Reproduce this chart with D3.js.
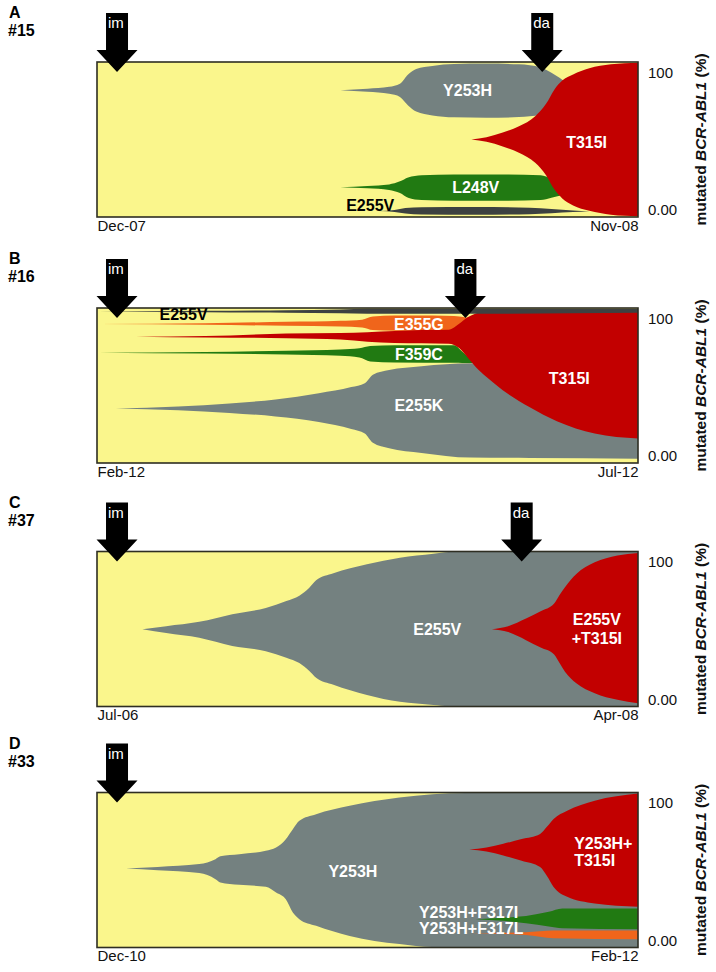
<!DOCTYPE html>
<html>
<head>
<meta charset="utf-8">
<script src="https://cdn.jsdelivr.net/npm/d3@7"></script>
<style>
  html, body { margin: 0; padding: 0; background: #fff; }
  svg { display: block; font-family: "Liberation Sans Narrow", "Arial Narrow", "Liberation Sans", Arial, sans-serif; }
  .title { font-family: "Liberation Sans", Arial, sans-serif; }
</style>
</head>
<body>
<svg id="chart" width="716" height="972"></svg>
<script>
// Clone outlines: each point is [time (% of the follow-up span), lower %, upper %]

// A  #15
const A_Y253H = [[45,81.8,81.8],[50,80.8,82.8],[54,79.5,84],[56,77.5,86],[57.5,72,92],[59,68,95.5],[62,65.5,97.5],[66,64.3,98.7],[72,64,99],[78,64.5,98.5],[82,66,96.5],[84,69,93],[87,74,86]];
const A_L248V = [[45,19.2,19.2],[50,18.5,20],[54,17.5,21],[56,15.5,23],[57.5,12.5,25.5],[60,11,27],[66,10.5,27.5],[76,10.5,27.5],[82,11,27],[84,12.5,25],[87,15,22]];
const A_E255V = [[52,3.8,3.8],[55,3.3,4.5],[57,2.2,5.8],[60,1.6,6.3],[70,1.4,6.5],[80,1.8,6],[84,2.5,5.2],[88,3.2,4.2],[91,3.7,3.7]];
const A_T315I = [[69.2,50,50],[72,48.5,51.5],[75,45.5,54.5],[78,41.5,58.5],[81,35,65],[83,27,73],[84.5,18,82],[86,12,88],[88,7.5,92],[91,4,96],[95,1.5,98.5],[100,0.5,99.5]];

// B  #16
const B_E255K = [[3.5,35.2,35.2],[15,34,36.5],[24.5,32.3,38.4],[33,30,41],[41,26.5,45],[47,22,49],[49.5,19,51.5],[51,13,57],[54,9.5,60],[60,6.5,62.5],[69,3.5,64.4],[80,3.3,64.4],[100,2.8,64.4]];
const B_F359C = [[0.5,71.2,71.2],[20,70.6,71.6],[35,70,72.4],[45,69.2,73.2],[48.5,68,74],[50.5,65.5,75.5],[55,64.8,76],[66,64.6,76],[67.5,64.5,72],[69.5,64.5,65]];
const B_E355G = [[0.5,89.7,89.7],[20,89.2,90.2],[35,88.5,91.1],[45,88,91.8],[49,87.5,92.5],[51,85.8,94.5],[55,85.3,95.2],[62,85.3,95.2],[66,86,94.8],[68,88,94],[70,91,93]];
const B_T315I = [[7.2,81.5,81.5],[20,81,81.9],[35,80.5,83.5],[45,79.6,83.8],[50,78.3,84.4],[60,77.2,85.8],[65,77,86],[67,74,90],[68.5,68,94],[70,62,96.5],[72,55.5,98],[75,47,98.5],[80,36,98.5],[85,27,98.5],[92,19,98.3],[100,15.8,98]];
const B_E255V = [[0.5,97.6,97.6],[20,97.2,98.2],[35,96.9,98.6],[45,96.6,99],[50,96.3,99.5],[70,96.3,99.5],[100,97,99.5]];

// C  #37
const C_E255V = [[8.4,49.8,49.8],[12.8,47.4,51.8],[18.9,44.3,54.6],[25,39,59.5],[31.2,35.7,63.6],[35,31.5,68],[37.4,28,71.5],[39.2,23,76.5],[40.5,18.5,81.5],[43.7,14,86],[49.9,7.5,91.8],[56,3,96],[62.2,1,98.5],[65,0.3,99.6],[100,0.3,99.7]];
const C_T315I = [[73,49.9,49.9],[76,48,51.8],[79.3,42.8,56.7],[82,38,61.5],[84.5,33.5,66.5],[85.5,28,72],[86.5,22.5,77],[88.6,15,85.5],[92,8.6,93],[96.2,4.3,97.4],[100,2.1,99.1]];

// D  #33
const D_Y253H = [[5.4,51,51],[11.2,49.9,52],[18.9,48,53.8],[21.9,44.1,57],[22.8,42,58.8],[26.3,40.5,60.2],[31.2,39.2,62.4],[33.1,35.5,64.5],[34.9,31.2,69.9],[36.2,22.6,76.3],[37.4,18.3,81.7],[40.5,14,86],[46.7,7.5,91.4],[55.9,2.2,96.8],[62,0.3,98.9],[68.2,0.3,99.7],[100,0.3,99.7]];
const D_T315I = [[68.8,63.2,63.2],[72,62,64.5],[75.1,59.4,66.9],[78.5,56,70],[81.9,51.9,73.3],[83.2,46,78],[84.4,39.1,82.9],[86.9,32.7,88.2],[92,28.4,94.7],[100,26.3,99.4]];
const D_F317I = [[70,18.2,18.2],[75,17.2,19.2],[79.3,15.6,20.3],[83.5,13.5,23],[86,12.4,25.2],[100,11.8,25.2]];
const D_F317L = [[69.2,9.2,9.2],[79.3,8.1,9.8],[84.4,6,10.9],[100,5.3,10.9]];

// clone names drawn inside the plot: [text, time, %]
const A_NAMES = [["Y253H", 68.5, 82], ["T315I", 90.5, 48], ["L248V", 70, 19]];
const A_DARK_NAMES = [["E255V", 50.5, 7.4]];
const B_NAMES = [["E355G", 59.5, 89.4], ["F359C", 59.5, 70], ["E255K", 59.5, 37], ["T315I", 87.3, 54.6]];
const B_DARK_NAMES = [["E255V", 16, 96]];
const C_NAMES = [["E255V", 62.9, 49.9], ["E255V", 92.4, 56], ["+T315I", 92.4, 44]];
const D_NAMES = [["Y253H", 47.3, 49.4]];
const D_LEFT_NAMES = [["Y253H+", 88.2, 67.5], ["T315I", 88.2, 56.5], ["Y253H+F317I", 59.5, 23], ["Y253H+F317L", 59.5, 12.2]];

const PANEL_IDS = ["A", "B", "C", "D"];
const PANEL_CASES = ["#15", "#16", "#37", "#33"];
const START_LABELS = ["Dec-07", "Feb-12", "Jul-06", "Dec-10"];
const END_LABELS = ["Nov-08", "Jul-12", "Apr-08", "Feb-12"];
const IM_TIMES = [3.7, 3.7, 3.7, 3.7];
const DA_TIMES = [82.3, 68.1, 78.5, null];
const Y_TICKS = [100, 0];
const Y_TICK_LABELS = ["100", "0.00"];

const YELLOW = "#faf68c";
const GREY = "#748180";
const RED = "#c20000";
const GREEN = "#217a12";
const ORANGE = "#f0651b";
const DARK = "#3d4141";

const panels = [
  { clones: [[A_Y253H, GREY], [A_L248V, GREEN], [A_E255V, DARK], [A_T315I, RED]], names: A_NAMES, dark: A_DARK_NAMES, left: [] },
  { clones: [[B_E255K, GREY], [B_F359C, GREEN], [B_E355G, ORANGE], [B_T315I, RED], [B_E255V, DARK]], names: B_NAMES, dark: B_DARK_NAMES, left: [] },
  { clones: [[C_E255V, GREY], [C_T315I, RED]], names: C_NAMES, dark: [], left: [] },
  { clones: [[D_Y253H, GREY], [D_T315I, RED], [D_F317I, GREEN], [D_F317L, ORANGE]], names: D_NAMES, dark: [], left: D_LEFT_NAMES }
];

const X0 = 97, X1 = 638, H = 155;
const TOPS = [62, 308, 551.5, 792.5];

const svg = d3.select("#chart");
const x = d3.scaleLinear().domain([0, 100]).range([X0, X1]);

panels.forEach((p, i) => {
  const top = TOPS[i];
  const y = d3.scaleLinear().domain([0, 100]).range([top + H, top]);
  const g = svg.append("g");

  g.append("clipPath").attr("id", "clip" + i)
    .append("rect").attr("x", X0).attr("y", top).attr("width", X1 - X0).attr("height", H);

  g.append("rect")
    .attr("x", X0).attr("y", top).attr("width", X1 - X0).attr("height", H)
    .attr("fill", YELLOW);

  const area = d3.area()
    .x(d => x(d[0]))
    .y0(d => y(d[1]))
    .y1(d => y(d[2]))
    .curve(d3.curveMonotoneX);

  const fish = g.append("g").attr("clip-path", "url(#clip" + i + ")");
  fish.selectAll("path")
    .data(p.clones)
    .enter()
    .append("path")
    .attr("d", d => area(d[0]))
    .attr("fill", d => d[1]);

  g.append("rect")
    .attr("x", X0).attr("y", top).attr("width", X1 - X0).attr("height", H)
    .attr("fill", "none").attr("stroke", "#2e2e22").attr("stroke-width", 1.6);

  // clone names
  const nameText = (arr, fill, anchor) => g.selectAll(null)
    .data(arr)
    .enter()
    .append("text")
    .attr("x", d => x(d[1]))
    .attr("y", d => y(d[2]))
    .attr("dy", "0.36em")
    .attr("text-anchor", anchor)
    .attr("fill", fill)
    .attr("font-weight", "bold")
    .attr("font-size", 16)
    .text(d => d[0]);
  nameText(p.names, "#fff", "middle");
  nameText(p.dark, "#000", "middle");
  nameText(p.left, "#fff", "start");

  // treatment arrows
  const arrow = (t, label) => {
    const cx = x(t);
    const pts = [
      [cx - 11, top - 49], [cx + 11, top - 49], [cx + 11, top - 12], [cx + 20.5, top - 12],
      [cx, top + 10], [cx - 20.5, top - 12], [cx - 11, top - 12]
    ];
    g.append("path").attr("d", d3.line()(pts) + "Z").attr("fill", "#000");
    g.append("text")
      .attr("x", cx - 9).attr("y", top - 34)
      .attr("fill", "#fff").attr("font-size", 15)
      .text(label);
  };
  arrow(IM_TIMES[i], "im");
  if (DA_TIMES[i] != null) arrow(DA_TIMES[i], "da");

  // right axis
  const yAxis = g.append("g")
    .attr("transform", "translate(" + (X1 + 8) + ",0)")
    .call(d3.axisRight(y).tickValues(Y_TICKS).tickSize(0).tickPadding(2)
      .tickFormat((d, k) => Y_TICK_LABELS[k]));
  yAxis.select(".domain").remove();
  yAxis.selectAll("text")
    .attr("font-size", 15).attr("font-family", null).attr("fill", "#111")
    .attr("dy", d => d === 100 ? "1.0em" : "-0.15em");

  // bottom axis (start and end dates)
  const xAxis = g.append("g")
    .attr("transform", "translate(0," + (top + H) + ")")
    .call(d3.axisBottom(x).tickValues([0, 100]).tickSize(0).tickPadding(3)
      .tickFormat((d, k) => k === 0 ? START_LABELS[i] : END_LABELS[i]));
  xAxis.select(".domain").remove();
  xAxis.selectAll("text")
    .attr("font-size", 15).attr("font-family", null).attr("fill", "#111")
    .attr("text-anchor", d => d === 0 ? "start" : "end");

  // axis title
  const title = g.append("text")
    .attr("class", "title")
    .attr("transform", "translate(706," + (top + H / 2) + ") rotate(-90)")
    .attr("text-anchor", "middle")
    .attr("font-weight", "bold")
    .attr("font-size", 15.5)
    .attr("fill", "#111");
  title.append("tspan").text("mutated ");
  title.append("tspan").attr("font-style", "italic").text("BCR-ABL1");
  title.append("tspan").text(" (%)");

  // panel tag
  g.append("text").attr("x", 9).attr("y", top - 44)
    .attr("font-weight", "bold").attr("font-size", 16).text(PANEL_IDS[i]);
  g.append("text").attr("x", 8).attr("y", top - 26)
    .attr("font-weight", "bold").attr("font-size", 16).text(PANEL_CASES[i]);
});
</script>
</body>
</html>
